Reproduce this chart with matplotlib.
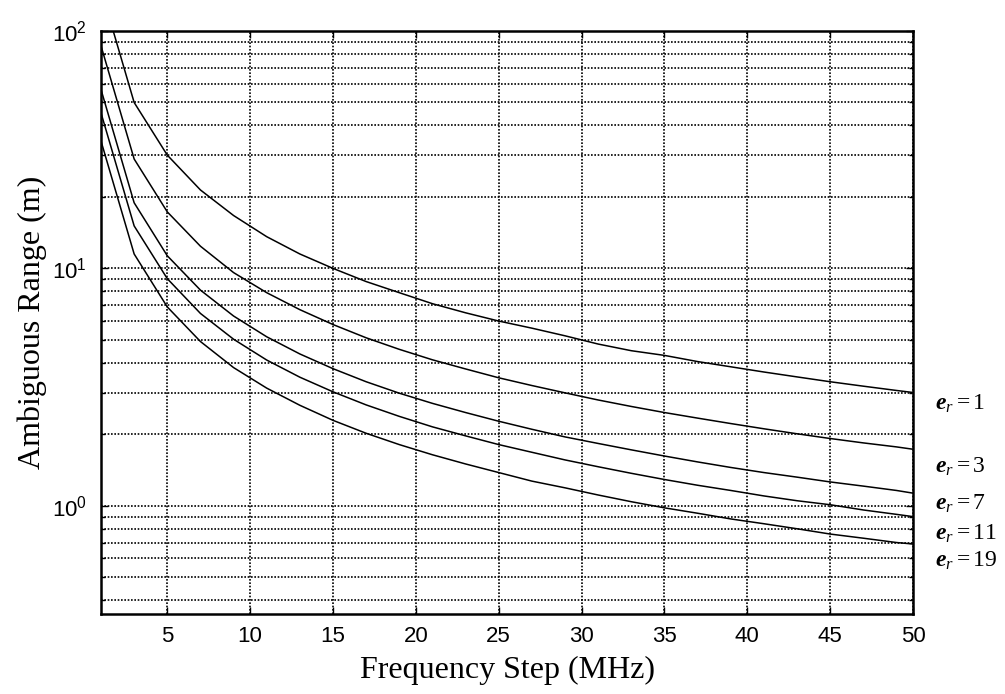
import numpy as np
import matplotlib
matplotlib.use("Agg")
import matplotlib.pyplot as plt
from matplotlib.ticker import LogLocator, NullFormatter

plt.rcParams['font.family'] = 'Liberation Sans'
plt.rcParams['mathtext.fontset'] = 'custom'
plt.rcParams['mathtext.rm'] = 'Liberation Serif'
plt.rcParams['mathtext.it'] = 'Liberation Serif:italic'
plt.rcParams['mathtext.bf'] = 'Liberation Serif:bold'
plt.rcParams['mathtext.bfit'] = 'Liberation Serif:italic:bold'

# frequency step (MHz)
freq = [1, 3, 5, 7, 9, 11, 13, 15, 17, 19, 21, 23, 25, 27, 29, 31, 33, 35,
        37, 39, 41, 43, 45, 47, 49, 50]

# ambiguous range (m)
range_er1 = [150, 50, 30, 21.4, 16.7, 13.6, 11.5, 10.0, 8.8, 7.9, 7.1, 6.5,
             6.0, 5.6, 5.2, 4.8, 4.5, 4.3, 4.05, 3.85, 3.66, 3.49, 3.33,
             3.19, 3.06, 3.0]
range_er3 = [86.6, 28.9, 17.3, 12.4, 9.6, 7.9, 6.7, 5.8, 5.1, 4.56, 4.12,
             3.77, 3.46, 3.21, 2.99, 2.79, 2.62, 2.47, 2.34, 2.22, 2.11,
             2.01, 1.92, 1.84, 1.77, 1.73]
range_er7 = [56.7, 18.9, 11.3, 8.1, 6.3, 5.15, 4.36, 3.78, 3.33, 2.98, 2.7,
             2.47, 2.27, 2.1, 1.95, 1.83, 1.72, 1.62, 1.53, 1.45, 1.38,
             1.32, 1.26, 1.21, 1.16, 1.13]
range_er11 = [45.2, 15.1, 9.05, 6.46, 5.03, 4.11, 3.48, 3.02, 2.66, 2.38,
              2.15, 1.97, 1.81, 1.68, 1.56, 1.46, 1.37, 1.29, 1.22, 1.16,
              1.1, 1.05, 1.01, 0.96, 0.92, 0.9]
range_er19 = [34.4, 11.5, 6.88, 4.92, 3.82, 3.13, 2.65, 2.29, 2.02, 1.81,
              1.64, 1.5, 1.38, 1.27, 1.19, 1.11, 1.04, 0.98, 0.93, 0.88,
              0.84, 0.8, 0.76, 0.73, 0.7, 0.69]

labels = ["1", "3", "7", "11", "19"]
label_y = [2.7, 1.46, 1.02, 0.76, 0.586]

fig = plt.figure(figsize=(10.05, 6.94), dpi=100)
ax = fig.add_axes([0.1005, 0.1153, 0.808, 0.840])

for r in [range_er1, range_er3, range_er7, range_er11, range_er19]:
    ax.plot(freq, r, color='black', lw=1.1)

ax.set_yscale('log')
ax.set_xlim(1, 50)
ax.set_ylim(0.35, 100)
ax.set_xticks(np.arange(5, 51, 5))
ax.yaxis.set_major_locator(LogLocator(base=10))
ax.yaxis.set_minor_locator(LogLocator(base=10, subs=np.arange(2, 10)))
ax.yaxis.set_minor_formatter(NullFormatter())

ax.grid(True, which='both', axis='y', color='black', ls=(0, (1, 1)), lw=1.2)
ax.grid(True, which='major', axis='x', color='black', ls=(0, (1, 1)), lw=1.2)

ax.tick_params(which='both', direction='in', top=True, right=True,
               labelsize=16, width=1)
ax.tick_params(which='major', length=5)
ax.tick_params(which='minor', length=3)
ax.tick_params(axis='x', pad=9)
ax.tick_params(axis='y', pad=10)
for s in ax.spines.values():
    s.set_linewidth(1.8)

ax.set_xlabel("Frequency Step (MHz)", family='Liberation Serif', fontsize=23,
              labelpad=6)
ax.set_ylabel("Ambiguous Range (m)", family='Liberation Serif', fontsize=23,
              labelpad=4)

for lab, yv in zip(labels, label_y):
    ax.text(51.3, yv, r"$\mathbfit{e}_{r} = " + lab + "$", fontsize=17,
            va='center', ha='left', clip_on=False)

fig.savefig("out.png", dpi=100)
